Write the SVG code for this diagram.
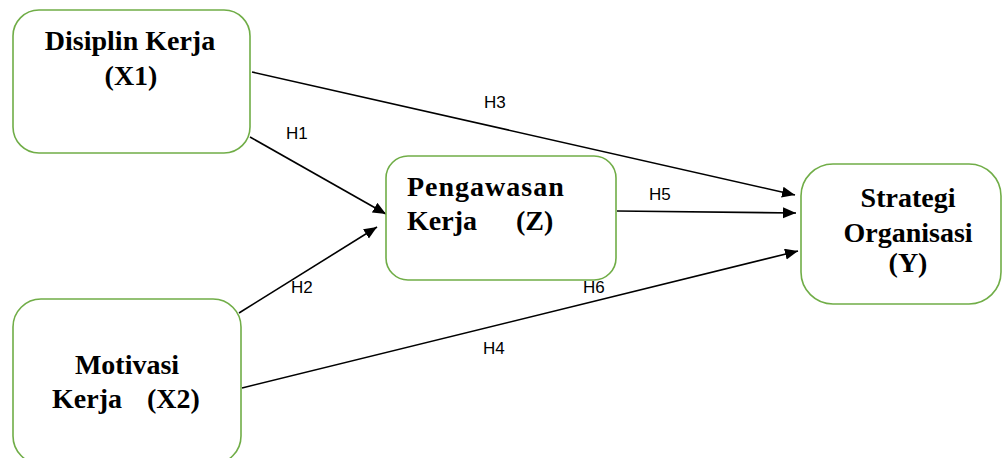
<svg xmlns="http://www.w3.org/2000/svg" width="1003" height="458" viewBox="0 0 1003 458">
<style>
.box{fill:#ffffff;stroke:#70AD47;stroke-width:1.6}
.t{font-family:"Liberation Serif","Times New Roman",serif;font-weight:bold;font-size:28px;fill:#000}
.l{font-family:"Liberation Sans",Arial,sans-serif;font-size:17px;fill:#000}
.c{stroke:#000;stroke-width:1.6;fill:none;marker-end:url(#ah)}
</style>
<defs>
<marker id="ah" markerUnits="userSpaceOnUse" markerWidth="14" markerHeight="12" refX="13" refY="5.5" orient="auto">
<path d="M0,0 L13,5.5 L0,11 Z" fill="#000"/>
</marker>
</defs>
<rect width="1003" height="458" fill="#ffffff"/>
<g id="connectors">
<line class="c" x1="252" y1="72" x2="795" y2="195"/>
<line class="c" x1="250" y1="137" x2="386" y2="214"/>
<line class="c" x1="239" y1="313" x2="377" y2="227"/>
<line class="c" x1="617" y1="211" x2="796" y2="213"/>
<line class="c" x1="242" y1="388" x2="798" y2="251"/>
<text class="l" x="484" y="108">H3</text>
<text class="l" x="286" y="139">H1</text>
<text class="l" x="291" y="293">H2</text>
<text class="l" x="649" y="200">H5</text>
<text class="l" x="583" y="293">H6</text>
<text class="l" x="483" y="354">H4</text>
</g>
<g id="X1">
<rect class="box" x="13" y="10" width="237" height="143" rx="26"/>
<text class="t" x="130" y="50" text-anchor="middle">Disiplin Kerja</text>
<text class="t" x="131" y="85" text-anchor="middle">(X1)</text>
</g>
<g id="Z">
<rect class="box" x="386" y="156" width="230" height="124" rx="22"/>
<text class="t" x="407" y="196" letter-spacing="1">Pengawasan</text>
<text class="t" y="230"><tspan x="407">Kerja</tspan><tspan x="516">(Z)</tspan></text>
</g>
<g id="Y">
<rect class="box" x="801" y="164" width="200" height="140" rx="32"/>
<text class="t" x="908" y="207" text-anchor="middle">Strategi</text>
<text class="t" x="908" y="242" text-anchor="middle">Organisasi</text>
<text class="t" x="908" y="272" text-anchor="middle">(Y)</text>
</g>
<g id="X2">
<rect class="box" x="13" y="299" width="228" height="165" rx="28"/>
<text class="t" x="127" y="374" text-anchor="middle">Motivasi</text>
<text class="t" y="408"><tspan x="52">Kerja</tspan><tspan x="147">(X2)</tspan></text>
</g>
</svg>
